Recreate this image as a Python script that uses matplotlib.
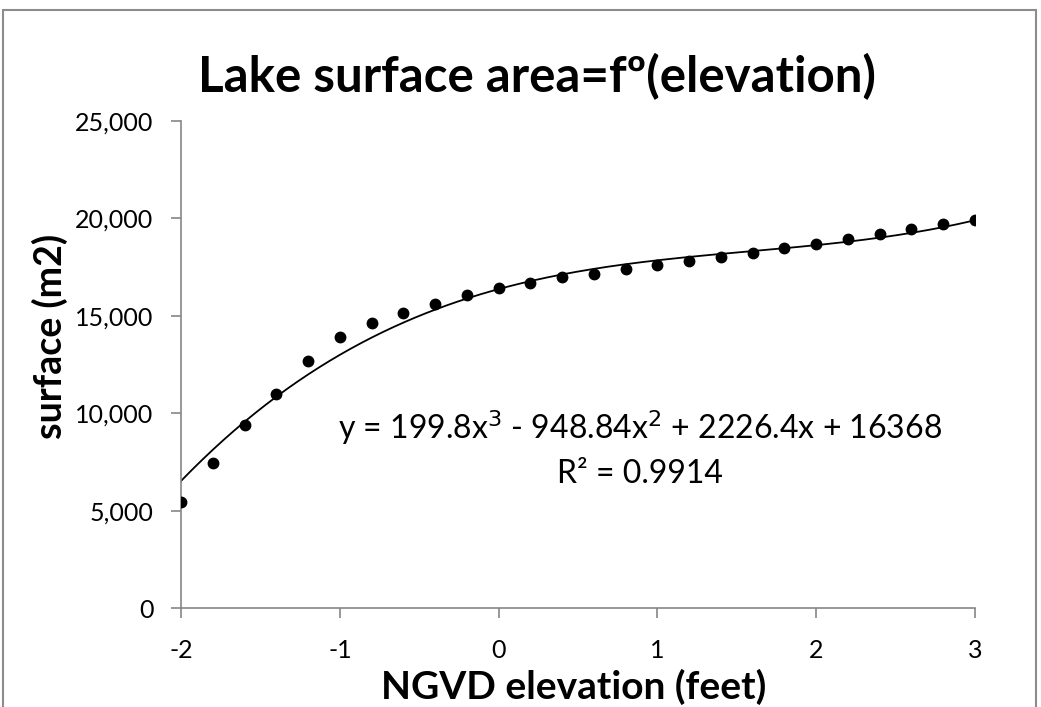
import numpy as np
import matplotlib.pyplot as plt
from matplotlib.patches import Rectangle
from matplotlib.ticker import FuncFormatter

# elevation (feet) and lake surface (m2)
elevation = [-2.0, -1.8, -1.6, -1.4, -1.2, -1.0, -0.8, -0.6, -0.4, -0.2, 0.0, 0.2, 0.4,
             0.6, 0.8, 1.0, 1.2, 1.4, 1.6, 1.8, 2.0, 2.2, 2.4, 2.6, 2.8, 3.0]
surface = [5450, 7450, 9400, 10990, 12690, 13920, 14630, 15140, 15600, 16060, 16420, 16690, 16980,
           17150, 17400, 17610, 17810, 18020, 18220, 18480, 18690, 18940, 19200, 19450, 19710, 19920]

# trendline coefficients shown on the chart (cubic)
trend_coef = [199.8, -948.84, 2226.4, 16368]
r_squared = 0.9914

plt.rcParams['font.family'] = ['Lato', 'DejaVu Sans']
plt.rcParams['axes.unicode_minus'] = False

fig = plt.figure(figsize=(10.41, 7.07), dpi=100)
ax = fig.add_axes([0.1739, 0.140, 0.7627, 0.689])

xs = np.linspace(-2, 3, 300)
ax.plot(xs, np.polyval(trend_coef, xs), color='black', lw=1.3, zorder=2)
ax.plot(elevation, surface, 'o', color='black', markersize=7.5, zorder=3)

ax.set_xlim(-2, 3)
ax.set_ylim(0, 25000)
ax.set_xticks([-2, -1, 0, 1, 2, 3])
ax.set_yticks(range(0, 25001, 5000))
ax.yaxis.set_major_formatter(FuncFormatter(lambda v, p: f"{int(v):,}"))

for s in ['top', 'right']:
    ax.spines[s].set_visible(False)
for s in ['left', 'bottom']:
    ax.spines[s].set_color('#868686')
    ax.spines[s].set_linewidth(1.2)
ax.tick_params(axis='both', direction='out', length=7, width=1.2, color='#868686',
               labelsize=18)
ax.tick_params(axis='y', pad=13)
ax.tick_params(axis='x', pad=15)

ax.set_xlabel("NGVD elevation (feet)", fontsize=28, fontweight='bold', va='center')
ax.xaxis.set_label_coords(0.494, -0.162)
ax.set_ylabel("surface (m2)", fontsize=27, fontweight='bold', va='center')
ax.yaxis.set_label_coords(-0.165, 0.5585)
fig.text(537 / 1041, 1 - 77 / 707, "Lake surface area=fº(elevation)", fontsize=35.5,
         fontweight='bold', ha='center', va='center')

ax.text(0.89, 9240, "y = 199.8x$^3$ - 948.84x$^2$ + 2226.4x + 16368",
        fontsize=23, ha='center', va='center')
ax.text(0.89, 6880, f"R² = {r_squared}", fontsize=23, ha='center', va='center')

# outer chart frame (bottom edge cut off as in the original)
fig.patches.append(Rectangle((3 / 1041, -0.05), 1033 / 1041, 1 - 10 / 707 + 0.05,
                             transform=fig.transFigure, fill=False,
                             edgecolor='#8c8c8c', lw=1.5))

fig.savefig("out.png", dpi=100)
